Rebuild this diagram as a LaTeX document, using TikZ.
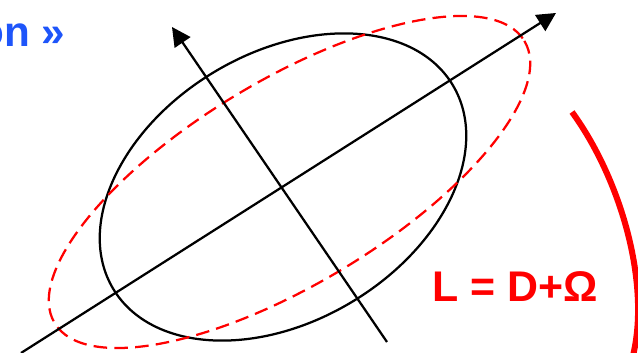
\documentclass[tikz,border=0pt]{standalone}
\usepackage{fontspec}
\setmainfont{Liberation Sans}
\usepackage{xcolor}
\usepackage{tikz}
\usetikzlibrary{arrows.meta,positioning}
\definecolor{titleblue}{RGB}{30,85,250}
\definecolor{lred}{RGB}{255,0,0}
\tikzset{
  axisline/.style={-{Triangle[length=0.47cm,width=0.47cm]}, line width=1.6pt, black},
  ellsolid/.style={line width=1.6pt, black},
  elldashed/.style={line width=1.6pt, lred, dash pattern=on 0.34cm off 0.18cm},
  bigarc/.style={line width=4.3pt, lred},
  biglabel/.style={font=\fontsize{30}{32}\selectfont\bfseries, inner sep=0pt, anchor=base west}
}

\begin{document}
\begin{tikzpicture}[x=0.025cm, y=-0.025cm]
\useasboundingbox (0,0) rectangle (638,353);
% axes
\coordinate (ctr) at (283,187);
\coordinate (majA) at (21,353);
\coordinate (majB) at (556,13);
\coordinate (minA) at (387,342);
\coordinate (minB) at (172,27);
% ellipses
\draw[ellsolid, rotate around={31:(ctr)}] (ctr) ellipse [x radius=198, y radius=134];
\coordinate (rctr) at (289.5,182);
\draw[elldashed, rotate around={31:(rctr)}] (rctr) ellipse [x radius=274, y radius=102];
\draw[axisline] (majA) -- (majB);
\draw[axisline] (minA) -- (minB);
% bracket on the right
\coordinate (arcA) at (572,112);
\coordinate (arcB) at (628,372);
\draw[bigarc] (arcA) .. controls (625,185) and (655,300) .. (arcB);
% texts
\node[biglabel, text=titleblue] (title) at (-22,47) {on »};
\node[biglabel, text=lred, font=\fontsize{30.5}{32}\selectfont\bfseries] (formula) at (432,302) {L = D+Ω};
\end{tikzpicture}
\end{document}
